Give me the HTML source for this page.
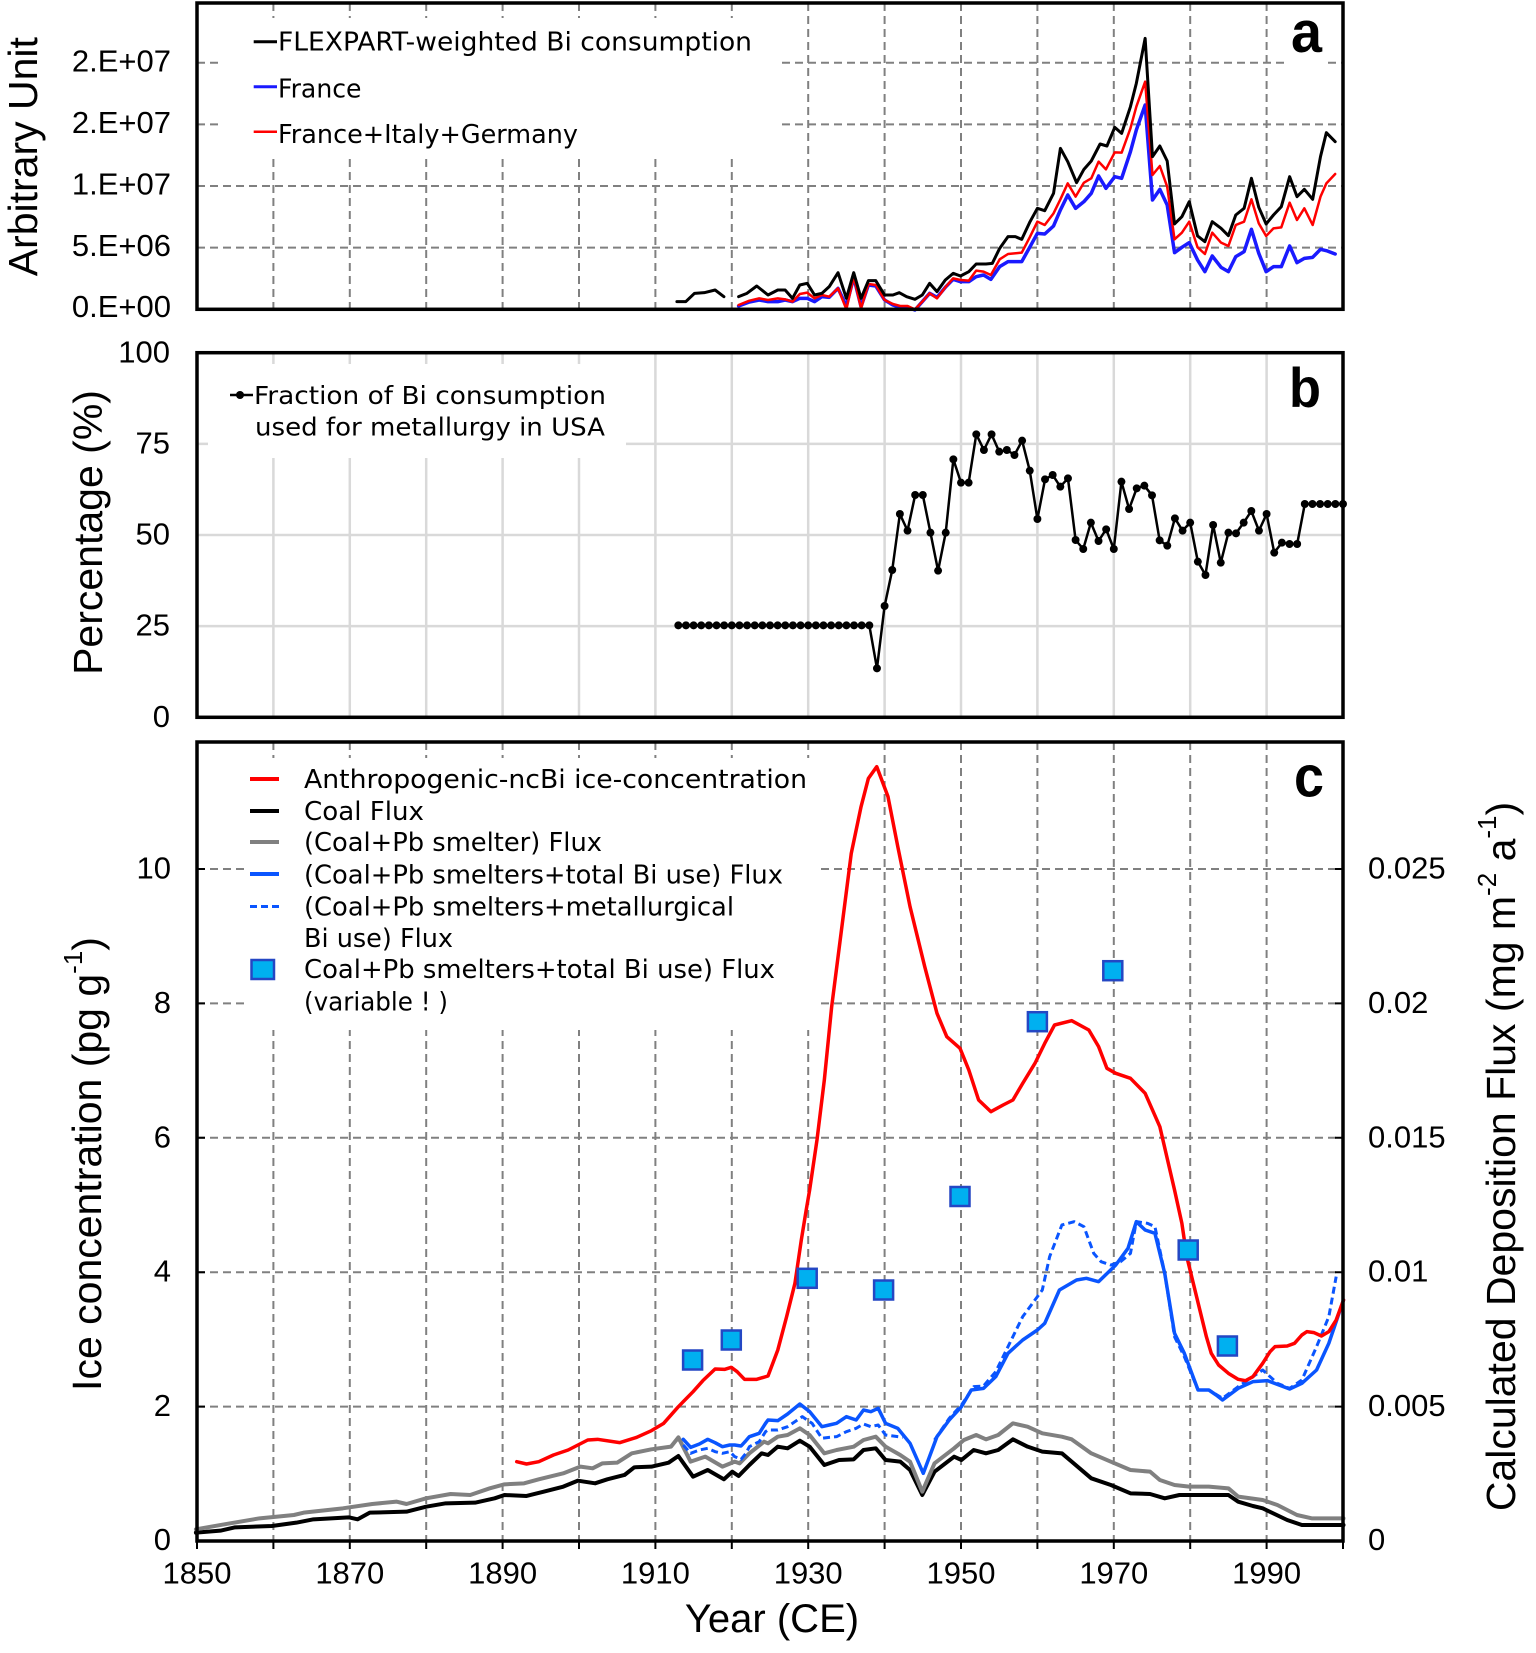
<!DOCTYPE html>
<html>
<head>
<meta charset="utf-8">
<style>
html,body{margin:0;padding:0;background:#fff;}
svg{display:block;}
</style>
</head>
<body>
<svg xmlns="http://www.w3.org/2000/svg" width="1536" height="1653" viewBox="0 0 1536 1653">
<rect x="0" y="0" width="1536" height="1653" fill="#fff"/>

<!-- ================= PANEL A ================= -->
<g stroke="#808080" stroke-width="2" stroke-dasharray="8 5" fill="none">
  <path d="M273.4 3V309M349.8 3V309M426.2 3V309M502.6 3V309M579 3V309M655.4 3V309M731.8 3V309M808.2 3V309M884.6 3V309M961 3V309M1037.4 3V309M1113.8 3V309M1190.2 3V309M1266.6 3V309"/>
  <path d="M197 62.7H1343M197 124.35H1343M197 186H1343M197 247.65H1343"/>
</g>
<rect x="221" y="18" width="559" height="136" fill="#fff"/>
<rect x="1285" y="12" width="43" height="58" fill="#fff"/>

<g transform="translate(768,0) scale(0.4898,0.33333)" fill="none" stroke-linejoin="round" stroke-linecap="round">
  <polyline vector-effect="non-scaling-stroke" stroke="#1a1aff" stroke-width="3.5" points="-60,918 -38,906 -18,900 0,905 20,905 35,900 50,905 65,895 80,895 95,905 110,890 125,892 143,865 160,918 175,832 190,920 205,855 220,858 238,900 255,915 270,922 285,922 300,930 315,905 330,880 345,892 362,862 378,838 393,845 410,845 425,830 440,825 455,838 473,800 490,785 518,785 535,740 550,700 565,702 583,678 597,630 612,585 628,625 645,605 660,580 675,528 690,565 708,530 722,535 740,455 752,390 770,315 785,600 800,568 815,615 830,758 845,742 860,728 877,780 892,815 907,768 925,802 940,815 955,770 972,755 987,688 1002,760 1017,815 1032,800 1048,800 1065,738 1080,788 1095,775 1112,772 1128,748 1140,752 1158,762"/>
  <polyline vector-effect="non-scaling-stroke" stroke="#ff0000" stroke-width="2.5" points="-60,915 -38,902 -18,895 0,900 20,895 35,898 50,905 65,882 80,878 95,895 110,885 125,890 143,865 160,928 175,830 190,925 205,852 220,855 238,900 255,912 270,918 285,918 300,928 315,905 330,880 345,895 362,862 378,835 393,840 410,842 425,812 440,815 455,825 473,778 490,762 518,758 535,710 550,665 565,675 583,640 597,598 612,550 628,590 645,548 660,535 675,485 690,508 708,457 722,458 740,385 752,320 770,245 785,525 800,498 815,560 830,718 845,698 860,665 877,742 892,762 907,698 925,728 940,738 955,675 972,665 987,598 1002,670 1017,708 1032,685 1048,682 1065,608 1080,660 1095,625 1112,675 1128,590 1140,550 1158,522"/>
  <polyline vector-effect="non-scaling-stroke" stroke="#000" stroke-width="3" points="-186,905 -168,905 -150,880 -130,878 -108,870 -90,890"/>
  <polyline vector-effect="non-scaling-stroke" stroke="#000" stroke-width="3" points="-60,890 -43,880 -23,858 0,885 20,870 35,870 50,895 65,855 80,850 95,885 110,880 125,860 143,818 160,895 175,818 190,895 205,842 220,842 238,885 255,885 268,878 283,890 300,898 315,885 330,850 345,875 362,840 378,820 393,828 410,815 425,792 445,792 458,790 473,745 490,710 505,710 518,718 535,665 550,625 565,632 583,580 597,445 612,485 630,548 645,508 660,483 678,432 692,438 708,382 722,400 740,320 752,250 770,115 785,470 800,438 815,483 830,672 845,650 860,605 877,708 892,725 907,665 925,685 940,707 955,645 972,625 987,535 1002,622 1017,672 1032,645 1048,620 1065,530 1080,590 1095,568 1112,598 1128,470 1140,398 1158,425"/>
</g>

<rect x="197" y="3" width="1146" height="306.3" fill="none" stroke="#000" stroke-width="3.5"/>

<g font-family="'DejaVu Sans', 'Liberation Sans', sans-serif" font-size="26" fill="#000">
  <line x1="253.7" y1="41.7" x2="277" y2="41.7" stroke="#000" stroke-width="3"/>
  <text x="278" y="50.7" textLength="474" lengthAdjust="spacingAndGlyphs">FLEXPART-weighted Bi consumption</text>
  <line x1="253.7" y1="86.7" x2="277" y2="86.7" stroke="#1a1aff" stroke-width="3"/>
  <text x="278" y="97.3" textLength="83.5" lengthAdjust="spacingAndGlyphs">France</text>
  <line x1="253.7" y1="131.7" x2="277" y2="131.7" stroke="#ff0000" stroke-width="2.5"/>
  <text x="278" y="143" textLength="300" lengthAdjust="spacingAndGlyphs">France+Italy+Germany</text>
</g>

<g font-family="'Liberation Sans', Arial, sans-serif" font-size="31" fill="#000" text-anchor="end">
  <text x="171" y="71.5">2.E+07</text>
  <text x="171" y="133">2.E+07</text>
  <text x="171" y="194.5">1.E+07</text>
  <text x="171" y="256">5.E+06</text>
  <text x="171" y="317">0.E+00</text>
</g>
<text x="1291" y="52" font-family="'Liberation Sans', Arial, sans-serif" font-weight="bold" font-size="58" textLength="31" lengthAdjust="spacingAndGlyphs">a</text>
<text transform="translate(37,156.7) rotate(-90)" text-anchor="middle" font-family="'Liberation Sans', Arial, sans-serif" font-size="41">Arbitrary Unit</text>

<!-- ================= PANEL B ================= -->
<g stroke="#d9d9d9" stroke-width="2.5" fill="none">
  <path d="M273.4 353V717M349.8 353V717M426.2 353V717M502.6 353V717M579 353V717M655.4 353V717M731.8 353V717M808.2 353V717M884.6 353V717M961 353V717M1037.4 353V717M1113.8 353V717M1190.2 353V717M1266.6 353V717"/>
  <path d="M197 626.15H1343M197 535H1343M197 443.85H1343"/>
</g>
<rect x="208" y="364" width="418" height="94" fill="#fff"/>

<g transform="translate(197,340) scale(7.64,0.33333)">
  <polyline vector-effect="non-scaling-stroke" fill="none" stroke="#000" stroke-width="2.5" stroke-linejoin="round" points="63,856 64,856 65,856 66,856 67,856 68,856 69,856 70,856 71,856 72,856 73,856 74,856 75,856 76,856 77,856 78,856 79,856 80,856 81,856 82,856 83,856 84,856 85,856 86,856 87,856 88,856 89,985 90,798 91,690 92,522 93,572 94,465 95,465 96,578 97,692 98,578 99,358 100,428 101,428 102,283 103,330 104,283 105,335 106,330 107,345 108,302 109,392 110,537 111,418 112,405 113,440 114,415 115,600 116,627 117,548 118,603 119,568 120,627 121,425 122,507 123,445 124,437 125,466 126,601 127,617 128,535 129,572 130,548 131,665 132,705 133,555 134,668 135,578 136,580 137,548 138,513 139,572 140,522 141,638 142,608 143,612 144,612 145,492 146,492 147,492 148,492 149,492 150,492"/>
  <g fill="#000">
    <ellipse cx="63" cy="856" rx="0.52" ry="12"/><ellipse cx="64" cy="856" rx="0.52" ry="12"/><ellipse cx="65" cy="856" rx="0.52" ry="12"/><ellipse cx="66" cy="856" rx="0.52" ry="12"/><ellipse cx="67" cy="856" rx="0.52" ry="12"/><ellipse cx="68" cy="856" rx="0.52" ry="12"/><ellipse cx="69" cy="856" rx="0.52" ry="12"/><ellipse cx="70" cy="856" rx="0.52" ry="12"/><ellipse cx="71" cy="856" rx="0.52" ry="12"/><ellipse cx="72" cy="856" rx="0.52" ry="12"/><ellipse cx="73" cy="856" rx="0.52" ry="12"/><ellipse cx="74" cy="856" rx="0.52" ry="12"/><ellipse cx="75" cy="856" rx="0.52" ry="12"/><ellipse cx="76" cy="856" rx="0.52" ry="12"/><ellipse cx="77" cy="856" rx="0.52" ry="12"/><ellipse cx="78" cy="856" rx="0.52" ry="12"/><ellipse cx="79" cy="856" rx="0.52" ry="12"/><ellipse cx="80" cy="856" rx="0.52" ry="12"/><ellipse cx="81" cy="856" rx="0.52" ry="12"/><ellipse cx="82" cy="856" rx="0.52" ry="12"/><ellipse cx="83" cy="856" rx="0.52" ry="12"/><ellipse cx="84" cy="856" rx="0.52" ry="12"/><ellipse cx="85" cy="856" rx="0.52" ry="12"/><ellipse cx="86" cy="856" rx="0.52" ry="12"/><ellipse cx="87" cy="856" rx="0.52" ry="12"/><ellipse cx="88" cy="856" rx="0.52" ry="12"/>
    <ellipse cx="89" cy="985" rx="0.52" ry="12"/><ellipse cx="90" cy="798" rx="0.52" ry="12"/><ellipse cx="91" cy="690" rx="0.52" ry="12"/><ellipse cx="92" cy="522" rx="0.52" ry="12"/><ellipse cx="93" cy="572" rx="0.52" ry="12"/><ellipse cx="94" cy="465" rx="0.52" ry="12"/><ellipse cx="95" cy="465" rx="0.52" ry="12"/><ellipse cx="96" cy="578" rx="0.52" ry="12"/><ellipse cx="97" cy="692" rx="0.52" ry="12"/><ellipse cx="98" cy="578" rx="0.52" ry="12"/><ellipse cx="99" cy="358" rx="0.52" ry="12"/><ellipse cx="100" cy="428" rx="0.52" ry="12"/><ellipse cx="101" cy="428" rx="0.52" ry="12"/><ellipse cx="102" cy="283" rx="0.52" ry="12"/><ellipse cx="103" cy="330" rx="0.52" ry="12"/><ellipse cx="104" cy="283" rx="0.52" ry="12"/><ellipse cx="105" cy="335" rx="0.52" ry="12"/><ellipse cx="106" cy="330" rx="0.52" ry="12"/><ellipse cx="107" cy="345" rx="0.52" ry="12"/><ellipse cx="108" cy="302" rx="0.52" ry="12"/><ellipse cx="109" cy="392" rx="0.52" ry="12"/><ellipse cx="110" cy="537" rx="0.52" ry="12"/><ellipse cx="111" cy="418" rx="0.52" ry="12"/><ellipse cx="112" cy="405" rx="0.52" ry="12"/><ellipse cx="113" cy="440" rx="0.52" ry="12"/><ellipse cx="114" cy="415" rx="0.52" ry="12"/><ellipse cx="115" cy="600" rx="0.52" ry="12"/><ellipse cx="116" cy="627" rx="0.52" ry="12"/><ellipse cx="117" cy="548" rx="0.52" ry="12"/><ellipse cx="118" cy="603" rx="0.52" ry="12"/><ellipse cx="119" cy="568" rx="0.52" ry="12"/><ellipse cx="120" cy="627" rx="0.52" ry="12"/><ellipse cx="121" cy="425" rx="0.52" ry="12"/><ellipse cx="122" cy="507" rx="0.52" ry="12"/><ellipse cx="123" cy="445" rx="0.52" ry="12"/><ellipse cx="124" cy="437" rx="0.52" ry="12"/><ellipse cx="125" cy="466" rx="0.52" ry="12"/><ellipse cx="126" cy="601" rx="0.52" ry="12"/><ellipse cx="127" cy="617" rx="0.52" ry="12"/><ellipse cx="128" cy="535" rx="0.52" ry="12"/><ellipse cx="129" cy="572" rx="0.52" ry="12"/><ellipse cx="130" cy="548" rx="0.52" ry="12"/><ellipse cx="131" cy="665" rx="0.52" ry="12"/><ellipse cx="132" cy="705" rx="0.52" ry="12"/><ellipse cx="133" cy="555" rx="0.52" ry="12"/><ellipse cx="134" cy="668" rx="0.52" ry="12"/><ellipse cx="135" cy="578" rx="0.52" ry="12"/><ellipse cx="136" cy="580" rx="0.52" ry="12"/><ellipse cx="137" cy="548" rx="0.52" ry="12"/><ellipse cx="138" cy="513" rx="0.52" ry="12"/><ellipse cx="139" cy="572" rx="0.52" ry="12"/><ellipse cx="140" cy="522" rx="0.52" ry="12"/><ellipse cx="141" cy="638" rx="0.52" ry="12"/><ellipse cx="142" cy="608" rx="0.52" ry="12"/><ellipse cx="143" cy="612" rx="0.52" ry="12"/><ellipse cx="144" cy="612" rx="0.52" ry="12"/><ellipse cx="145" cy="492" rx="0.52" ry="12"/><ellipse cx="146" cy="492" rx="0.52" ry="12"/><ellipse cx="147" cy="492" rx="0.52" ry="12"/><ellipse cx="148" cy="492" rx="0.52" ry="12"/><ellipse cx="149" cy="492" rx="0.52" ry="12"/><ellipse cx="150" cy="492" rx="0.52" ry="12"/>
  </g>
</g>

<rect x="197" y="352.7" width="1146" height="364.6" fill="none" stroke="#000" stroke-width="3.5"/>

<g font-family="'DejaVu Sans', 'Liberation Sans', sans-serif" font-size="25" fill="#000">
  <line x1="230" y1="395" x2="253" y2="395" stroke="#000" stroke-width="2.5"/>
  <circle cx="240" cy="395" r="4" fill="#000"/>
  <text x="254" y="404" textLength="352" lengthAdjust="spacingAndGlyphs">Fraction of Bi consumption</text>
  <text x="255" y="435.5" textLength="350" lengthAdjust="spacingAndGlyphs">used for metallurgy in USA</text>
</g>

<g font-family="'Liberation Sans', Arial, sans-serif" font-size="31" fill="#000" text-anchor="end">
  <text x="170" y="362.5">100</text>
  <text x="170" y="453.5">75</text>
  <text x="170" y="544.5">50</text>
  <text x="170" y="635.7">25</text>
  <text x="170" y="726.8">0</text>
</g>
<text x="1289" y="407" font-family="'Liberation Sans', Arial, sans-serif" font-weight="bold" font-size="56" textLength="32" lengthAdjust="spacingAndGlyphs">b</text>
<text transform="translate(102,532.5) rotate(-90)" text-anchor="middle" font-family="'Liberation Sans', Arial, sans-serif" font-size="41">Percentage (%)</text>

<!-- ================= PANEL C ================= -->
<g stroke="#808080" stroke-width="2" stroke-dasharray="8 5" fill="none">
  <path d="M273.4 742V1541M349.8 742V1541M426.2 742V1541M502.6 742V1541M579 742V1541M655.4 742V1541M731.8 742V1541M808.2 742V1541M884.6 742V1541M961 742V1541M1037.4 742V1541M1113.8 742V1541M1190.2 742V1541M1266.6 742V1541"/>
  <path d="M197 869H1343M197 1003.4H1343M197 1137.8H1343M197 1272.2H1343M197 1406.6H1343"/>
</g>
<rect x="245" y="758" width="575" height="272" fill="#fff"/>

<g transform="translate(768,1190) scale(0.4898,0.33333)" fill="none" stroke-linejoin="round" stroke-linecap="round">
  <polyline vector-effect="non-scaling-stroke" stroke="#000" stroke-width="4" points="-1168,1028 -1118,1022 -1088,1012 -1013,1008 -963,998 -928,988 -856,982 -838,988 -813,968 -738,965 -698,950 -658,940 -598,938 -558,925 -538,915 -493,918 -458,905 -418,890 -388,872 -353,880 -328,868 -293,855 -273,832 -238,830 -203,818 -183,798 -153,860 -123,840 -90,868 -73,845 -60,858 -38,825 -13,790 0,795 20,770 40,775 65,752 85,770 115,825 145,810 175,808 195,780 220,775 240,810 270,815 290,840 315,915 340,845 380,800 395,810 420,780 445,790 470,780 500,748 530,770 560,785 600,790 620,815 660,865 700,885 740,910 780,912 810,925 840,915 900,915 940,915 960,935 990,948 1010,955 1060,990 1090,1005 1175,1005"/>
  <polyline vector-effect="non-scaling-stroke" stroke="#808080" stroke-width="4" points="-1168,1018 -1098,1000 -1038,985 -968,975 -948,968 -868,955 -808,942 -758,935 -738,942 -698,925 -648,912 -608,915 -568,895 -538,883 -498,880 -468,868 -418,850 -383,830 -358,835 -338,820 -308,818 -278,790 -238,778 -198,770 -183,742 -158,815 -128,800 -93,830 -68,815 -58,820 -38,790 -8,755 0,760 20,740 40,735 65,715 85,735 115,790 140,780 175,770 195,750 220,740 240,770 270,795 290,815 315,905 340,820 380,775 400,750 425,735 445,748 470,735 500,700 530,710 560,730 600,740 620,748 660,790 700,815 740,840 780,845 800,870 830,885 860,890 900,890 940,895 960,920 1010,930 1040,945 1080,975 1110,985 1175,985"/>
  <polyline vector-effect="non-scaling-stroke" stroke="#0a55ff" stroke-width="3" stroke-dasharray="7 4" stroke-linecap="butt" points="-173,765 -158,790 -140,780 -123,775 -108,785 -93,790 -78,785 -68,800 -55,808 -45,790 -38,770 -18,755 -5,725 0,720 20,720 40,710 70,680 90,700 110,745 125,742 140,740 160,725 180,715 195,702 210,710 225,705 240,735 265,740 275,742"/>
  <polyline vector-effect="non-scaling-stroke" stroke="#0a55ff" stroke-width="3" stroke-dasharray="7 4" stroke-linecap="butt" points="340,750 370,685 395,645 420,590 440,588 465,545 490,470 520,380 545,330 560,300 575,200 600,105 625,95 645,110 665,190 680,215 700,225 720,215 740,190 752,95 775,100 790,110 810,250 830,440 850,500 878,600 900,600 928,625 960,590 990,560 1010,540 1040,580 1065,595 1090,570 1120,470 1145,380 1160,260"/>
  <polyline vector-effect="non-scaling-stroke" stroke="#0a55ff" stroke-width="3.5" points="-173,748 -158,772 -140,762 -123,748 -108,758 -93,770 -78,765 -68,765 -55,768 -45,752 -38,740 -18,730 -5,700 0,690 20,692 40,672 65,642 85,665 110,710 125,705 140,700 160,680 180,690 195,660 210,665 225,655 240,700 265,715 290,760 317,850 345,740 370,690 395,650 415,600 440,595 465,560 490,490 520,450 550,420 565,400 595,300 630,270 650,265 675,275 710,225 735,175 752,95 770,120 790,130 810,250 830,430 850,490 878,600 900,600 915,615 928,630 960,595 990,575 1020,572 1065,597 1090,580 1120,540 1145,460 1175,330"/>
  <polyline vector-effect="non-scaling-stroke" stroke="#ff0000" stroke-width="3.5" points="-513,815 -493,822 -468,815 -438,795 -408,780 -368,750 -348,748 -303,758 -268,742 -238,722 -213,700 -183,650 -153,605 -133,572 -108,537 -88,538 -75,532 -63,545 -48,568 -23,568 0,558 20,480 38,380 55,280 68,150 78,60 85,0 100,-150 115,-330 130,-550 150,-780 170,-1010 190,-1150 205,-1235 222,-1270 245,-1180 265,-1030 290,-850 320,-670 345,-530 365,-460 392,-425 410,-360 430,-270 455,-235 480,-255 500,-270 520,-320 545,-380 565,-440 585,-495 620,-508 655,-480 675,-430 692,-365 710,-350 740,-335 770,-290 800,-190 830,0 845,100 855,200 870,290 880,350 895,440 905,490 920,525 940,550 960,568 975,572 990,560 1010,520 1025,485 1035,470 1060,468 1075,460 1090,435 1100,425 1115,428 1130,438 1145,425 1160,390 1175,330"/>
</g>

<g fill="#00b0f0" stroke="#2447c4" stroke-width="2.5">
  <rect x="683.1" y="1350.5" width="19" height="19"/>
  <rect x="721.8" y="1330.5" width="19" height="19"/>
  <rect x="797.7" y="1268.8" width="19" height="19"/>
  <rect x="874.1" y="1280.5" width="19" height="19"/>
  <rect x="950.5" y="1187" width="19" height="19"/>
  <rect x="1027.9" y="1012.2" width="19" height="19"/>
  <rect x="1103.3" y="961.2" width="19" height="19"/>
  <rect x="1178.7" y="1240.5" width="19" height="19"/>
  <rect x="1217.9" y="1336.5" width="19" height="19"/>
</g>

<rect x="197" y="742" width="1146" height="799" fill="none" stroke="#000" stroke-width="3.5"/>
<g stroke="#000" stroke-width="2">
  <path d="M197 1541V1549M273.4 1541V1549M349.8 1541V1549M426.2 1541V1549M502.6 1541V1549M579 1541V1549M655.4 1541V1549M731.8 1541V1549M808.2 1541V1549M884.6 1541V1549M961 1541V1549M1037.4 1541V1549M1113.8 1541V1549M1190.2 1541V1549M1266.6 1541V1549M1343 1541V1549"/>
  <path d="M197 869H205M197 1003.4H205M197 1137.8H205M197 1272.2H205M197 1406.6H205"/>
  <path d="M1335 869H1343M1335 1003.4H1343M1335 1137.8H1343M1335 1272.2H1343M1335 1406.6H1343"/>
</g>

<g font-family="'DejaVu Sans', 'Liberation Sans', sans-serif" font-size="26" fill="#000">
  <line x1="250" y1="779" x2="279" y2="779" stroke="#ff0000" stroke-width="4"/>
  <text x="304" y="788" textLength="503" lengthAdjust="spacingAndGlyphs">Anthropogenic-ncBi ice-concentration</text>
  <line x1="250" y1="811" x2="279" y2="811" stroke="#000" stroke-width="4"/>
  <text x="304" y="820" textLength="120" lengthAdjust="spacingAndGlyphs">Coal Flux</text>
  <line x1="250" y1="842" x2="279" y2="842" stroke="#808080" stroke-width="4"/>
  <text x="304" y="851" textLength="298" lengthAdjust="spacingAndGlyphs">(Coal+Pb smelter) Flux</text>
  <line x1="250" y1="874" x2="279" y2="874" stroke="#0a55ff" stroke-width="4"/>
  <text x="304" y="883.3" textLength="479" lengthAdjust="spacingAndGlyphs">(Coal+Pb smelters+total Bi use) Flux</text>
  <line x1="250" y1="906.5" x2="279" y2="906.5" stroke="#0a55ff" stroke-width="3" stroke-dasharray="7 4"/>
  <text x="304" y="915.5" textLength="430" lengthAdjust="spacingAndGlyphs">(Coal+Pb smelters+metallurgical</text>
  <text x="304" y="947" textLength="149" lengthAdjust="spacingAndGlyphs">Bi use) Flux</text>
  <rect x="251.5" y="960" width="22.5" height="19" fill="#00b0f0" stroke="#2447c4" stroke-width="2.5"/>
  <text x="304" y="978" textLength="471" lengthAdjust="spacingAndGlyphs">Coal+Pb smelters+total Bi use) Flux</text>
  <text x="304" y="1010.5" textLength="144" lengthAdjust="spacingAndGlyphs">(variable ! )</text>
</g>

<g font-family="'Liberation Sans', Arial, sans-serif" font-size="31" fill="#000" text-anchor="end">
  <text x="171" y="878.5">10</text>
  <text x="171" y="1012.9">8</text>
  <text x="171" y="1147.3">6</text>
  <text x="171" y="1281.7">4</text>
  <text x="171" y="1416.1">2</text>
  <text x="171" y="1550">0</text>
</g>
<g font-family="'Liberation Sans', Arial, sans-serif" font-size="31" fill="#000" text-anchor="start">
  <text x="1368" y="878.5">0.025</text>
  <text x="1368" y="1012.9">0.02</text>
  <text x="1368" y="1147.3">0.015</text>
  <text x="1368" y="1281.7">0.01</text>
  <text x="1368" y="1416.1">0.005</text>
  <text x="1368" y="1550">0</text>
</g>
<g font-family="'Liberation Sans', Arial, sans-serif" font-size="31" fill="#000" text-anchor="middle">
  <text x="197" y="1583.5">1850</text>
  <text x="349.8" y="1583.5">1870</text>
  <text x="502.6" y="1583.5">1890</text>
  <text x="655.4" y="1583.5">1910</text>
  <text x="808.2" y="1583.5">1930</text>
  <text x="961" y="1583.5">1950</text>
  <text x="1113.8" y="1583.5">1970</text>
  <text x="1266.6" y="1583.5">1990</text>
</g>
<text x="1294" y="796.7" font-family="'Liberation Sans', Arial, sans-serif" font-weight="bold" font-size="58" textLength="30" lengthAdjust="spacingAndGlyphs">c</text>

<text x="772" y="1632" text-anchor="middle" font-family="'Liberation Sans', Arial, sans-serif" font-size="40">Year (CE)</text>
<text transform="translate(101,1164) rotate(-90)" text-anchor="middle" font-family="'Liberation Sans', Arial, sans-serif" font-size="41">Ice concentration (pg g<tspan font-size="26" dy="-19">-1</tspan><tspan dy="19">)</tspan></text>
<text transform="translate(1515,1156.5) rotate(-90)" text-anchor="middle" font-family="'Liberation Sans', Arial, sans-serif" font-size="41">Calculated Deposition Flux (mg m<tspan font-size="26" dy="-19">-2</tspan><tspan dy="19"> a</tspan><tspan font-size="26" dy="-19">-1</tspan><tspan dy="19">)</tspan></text>

</svg>
</body>
</html>
